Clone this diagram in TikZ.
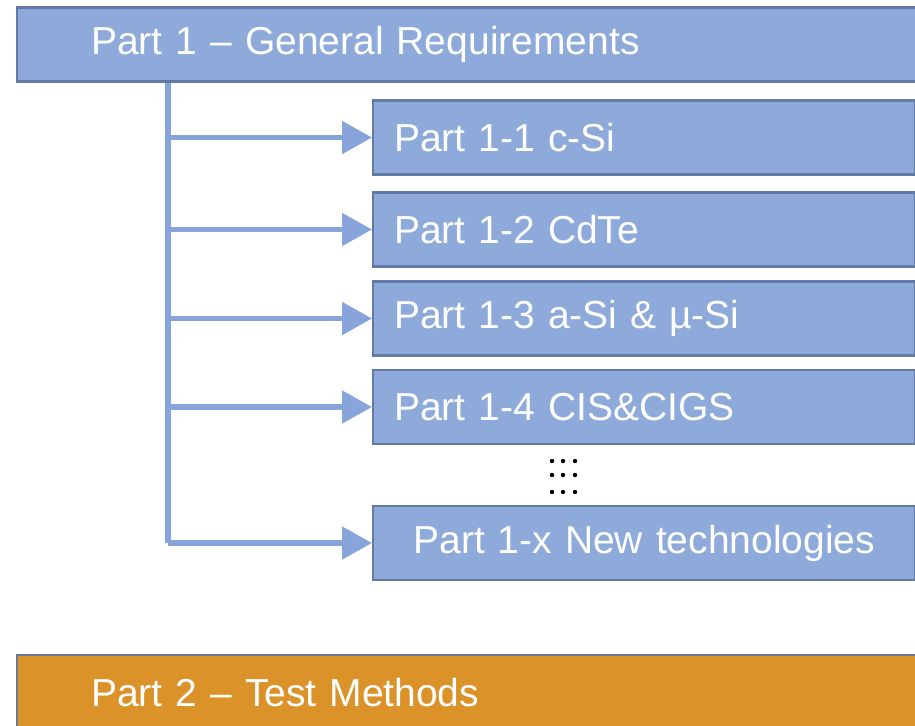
\documentclass[tikz,border=0pt]{standalone}
\usepackage{fontspec}
\setmainfont{Liberation Sans}
\usepackage{tikz}
\usetikzlibrary{arrows.meta}
\definecolor{partblue}{RGB}{142,170,219}
\definecolor{partedge}{RGB}{98,120,165}
\definecolor{linkblue}{RGB}{135,165,218}
\definecolor{partorange}{RGB}{219,146,40}

\begin{document}
\begin{tikzpicture}[x=0.5pt,y=-0.5pt,
  box/.style={rectangle,draw=partedge,line width=1.2pt,fill=partblue,text=white,
    font=\fontsize{19.5}{23}\selectfont,anchor=west,inner ysep=0pt},
  main part/.style={box,minimum height=37pt,text width=377.5pt,inner xsep=37pt,align=left},
  sub part/.style={box,minimum height=37pt,text width=250pt,inner xsep=10.5pt,align=left},
  link/.style={draw=linkblue,line width=2.6pt},
  arrow/.style={link,-{Triangle[length=15pt,width=16pt]}}]
  \useasboundingbox (0,0) rectangle (915,725);
  \clip (0,0) rectangle (915,725);
  \node[main part] (part1) at (16,44.5) {Part 1 -- General Requirements};
  \node[sub part] (p11) at (372,137.5) {Part 1-1 c-Si};
  \node[sub part] (p12) at (372,229.5) {Part 1-2 CdTe};
  \node[sub part] (p13) at (372,318.5) {Part 1-3 a-Si \& µ-Si};
  \node[sub part] (p14) at (372,407) {Part 1-4 CIS\&CIGS};
  \node[sub part,align=center] (p1x) at (372,543) {Part 1-x New technologies};
  \node[main part,fill=partorange,draw=partedge!80!gray,minimum height=38pt] (part2) at (16,693) {Part 2 -- Test Methods};
  \coordinate (trunk) at (168,0);
  % more parts to come
  \foreach \y in {461,475,492}
    \foreach \x in {552,563,575}
      \fill (\x,\y) circle (1.1pt);
  % branches off part 1
  \draw[link,line width=3pt] (part1.south -| trunk) -- (p1x.west -| trunk);
  \foreach \p in {p11,p12,p13,p14,p1x}
    \draw[arrow] (\p.west -| trunk) -- (\p.west);
\end{tikzpicture}
\end{document}
